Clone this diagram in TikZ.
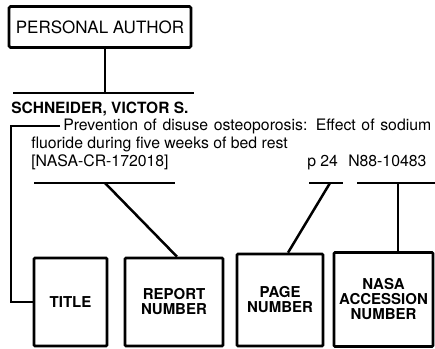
\documentclass[tikz,border=0pt]{standalone}
\usepackage{fontspec}
\setmainfont{TeX Gyre Heros}
\usetikzlibrary{positioning}

\begin{document}
\begin{tikzpicture}[x=1pt, y=-1pt, line width=2.5pt,
    fieldBox/.style={draw=black, line width=2.6pt, rounded corners=1pt, inner sep=0pt, align=center,
        font=\bfseries\fontsize{15}{15}\selectfont},
    entryText/.style={inner sep=0pt, anchor=base west, font=\fontsize{15.8}{18}\selectfont}]
    \useasboundingbox (0,0) rectangle (435,348);

    \node[draw=black, line width=2.6pt, rounded corners=1.5pt, minimum width=182pt, minimum height=41pt,
        font=\fontsize{17}{18}\selectfont] (authorBox) at (100,27) {PERSONAL AUTHOR};

    % citation lines
    \node[entryText, font=\bfseries\fontsize{15.5}{18}\selectfont] (authorName) at (10,113) {SCHNEIDER, VICTOR S.};
    \node[entryText] (titleA) at (62,130) {\makebox[368pt][s]{Prevention of disuse osteoporosis: Effect of sodium}};
    \node[entryText] (titleB) at (30,148) {fluoride during five weeks of bed rest};
    \node[entryText] (reportNo) at (30,166) {[NASA-CR-172018]};
    \node[entryText] (pageNo) at (306,166) {p 24};
    \node[entryText] (accNo) at (347,166) {N88-10483};

    \coordinate (authorTap) at (105,93);
    \coordinate (reportTap) at (105,183);
    \coordinate (pageTap) at (330,183);
    \coordinate (accTap) at (398,183);

    % field boxes
    \node[fieldBox, minimum width=73pt, minimum height=88pt] (titleBox) at (70.5,302) {TITLE};
    \node[fieldBox, minimum width=98pt, minimum height=88pt] (reportBox) at (174,302) {REPORT\\NUMBER};
    \node[fieldBox, minimum width=86pt, minimum height=92pt] (pageBox) at (280,300) {PAGE\\NUMBER};
    \node[fieldBox, minimum width=99pt, minimum height=94pt] (accBox) at (383.5,299.5) {NASA\\ACCESSION\\NUMBER};

    % underlines
    \draw (13,93) -- (194,93);
    \draw (34,183) -- (175,183);
    \draw (309,183) -- (343,183);
    \draw (357,183) -- (435,183);

    \draw (authorBox.south -| authorTap) -- (authorTap);
    \draw[line width=2pt] ([xshift=-2pt]titleA.west) -| (11,0 |- titleBox.west) -- (titleBox.west);
    \draw (reportTap) -- ([xshift=3pt]reportBox.north);
    \draw (pageTap) -- ([xshift=8pt]pageBox.north);
    \draw (accTap) -- ([xshift=14.5pt]accBox.north);
\end{tikzpicture}
\end{document}
